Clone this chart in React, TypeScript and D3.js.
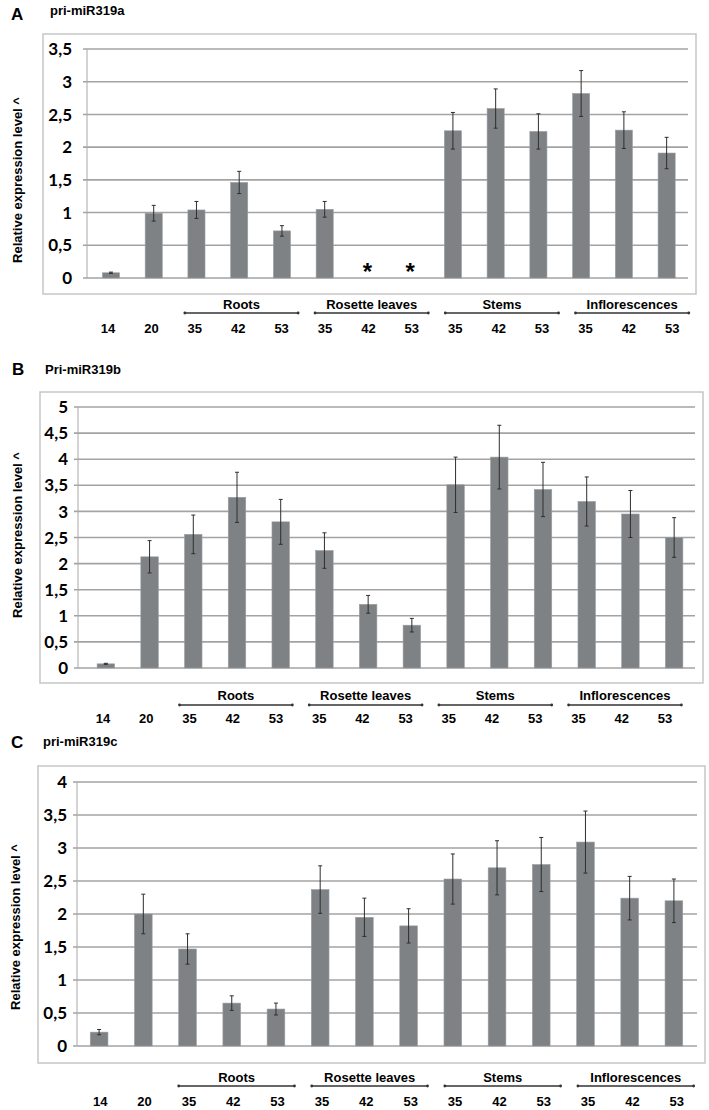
import * as d3 from 'd3'

// x categories (days) and tissue groups
const categories = ['14', '20', '35', '42', '53', '35', '42', '53', '35', '42', '53', '35', '42', '53']
const groupNames = ['Roots', 'Rosette leaves', 'Stems', 'Inflorescences']
const groupFirst = [2, 5, 8, 11]
const groupLast = [4, 7, 10, 13]

// A: pri-miR319a
const valuesA = [0.08, 0.99, 1.04, 1.46, 0.72, 1.05, 0, 0, 2.25, 2.59, 2.24, 2.82, 2.26, 1.91]
const errorsA = [0.01, 0.12, 0.13, 0.17, 0.08, 0.12, 0, 0, 0.28, 0.3, 0.27, 0.35, 0.28, 0.24]
const starsA = [6, 7]
const ticksA = [0, 0.5, 1, 1.5, 2, 2.5, 3, 3.5]

// B: Pri-miR319b
const valuesB = [0.08, 2.13, 2.56, 3.27, 2.8, 2.25, 1.22, 0.82, 3.51, 4.04, 3.42, 3.19, 2.95, 2.5]
const errorsB = [0.01, 0.31, 0.37, 0.48, 0.43, 0.34, 0.17, 0.13, 0.53, 0.61, 0.52, 0.47, 0.45, 0.38]
const ticksB = [0, 0.5, 1, 1.5, 2, 2.5, 3, 3.5, 4, 4.5, 5]

// C: pri-miR319c
const valuesC = [0.21, 2.0, 1.47, 0.65, 0.56, 2.37, 1.95, 1.82, 2.53, 2.7, 2.75, 3.09, 2.24, 2.2]
const errorsC = [0.04, 0.3, 0.23, 0.11, 0.09, 0.36, 0.29, 0.26, 0.38, 0.41, 0.41, 0.47, 0.33, 0.33]
const ticksC = [0, 0.5, 1, 1.5, 2, 2.5, 3, 3.5, 4]

const yTitle = 'Relative expression level ^'
const barColor = '#7e8285'
const gridColor = '#a3a3a3'
const arial = '"Liberation Sans", Arial, sans-serif'
const calibri = 'Lato, "Liberation Sans", sans-serif'

const fmt = (v: number) => String(v).replace('.', ',')

interface Layout {
  frame: [number, number, number, number]
  axisX: number
  gridRight: number
  barRange: [number, number]
  labelRange: [number, number]
  y0: number
  yTop: number
  tickRight: number
  groupBase: number
  groupLine: number
  tickBase: number
  letterX: number
  letterBase: number
  titleX: number
  titleBase: number
  yTitleX: number
  yTitleY: number
}

interface PanelProps {
  letter: string
  title: string
  values: number[]
  errors: number[]
  ticks: number[]
  stars?: number[]
  L: Layout
}

function Panel({ letter, title, values, errors, ticks, stars = [], L }: PanelProps) {
  const x = d3.scaleBand<number>().domain(d3.range(categories.length)).range(L.barRange).paddingInner(0.6).paddingOuter(0.3)
  const lx = d3.scaleBand<number>().domain(d3.range(categories.length)).range(L.labelRange)
  const y = d3.scaleLinear().domain([0, d3.max(ticks)!]).range([L.y0, L.yTop])
  const [fx1, fy1, fx2, fy2] = L.frame
  const step = lx.step()

  return (
    <g>
      <text x={L.letterX} y={L.letterBase} fontFamily={arial} fontWeight="bold" fontSize={17}>{letter}</text>
      <text x={L.titleX} y={L.titleBase} fontFamily={arial} fontWeight="bold" fontSize={13}>{title}</text>
      <rect x={fx1} y={fy1} width={fx2 - fx1} height={fy2 - fy1} fill="#fff" stroke="#c6c6c6" strokeWidth={1.5} />

      {ticks.map(t => (
        <g key={t}>
          <line x1={L.axisX - 4} x2={L.gridRight} y1={y(t)} y2={y(t)} stroke={gridColor} strokeWidth={1.6} />
          <text x={L.tickRight} y={y(t)} dy="0.36em" textAnchor="end" fontFamily={calibri} fontWeight="bold" fontSize={17}>{fmt(t)}</text>
        </g>
      ))}
      <line x1={L.axisX} x2={L.axisX} y1={L.yTop} y2={L.y0} stroke="#a8a8a8" strokeWidth={1} />

      {values.map((v, i) => {
        const cx = x(i)! + x.bandwidth() / 2
        return (
          <g key={i}>
            {v > 0 && (
              <rect x={x(i)} y={y(v)} width={x.bandwidth()} height={y(0) - y(v)} fill={barColor} stroke="#9a9ea1" strokeWidth={0.6} />
            )}
            {errors[i] > 0 && (
              <g stroke="#2e2e2e" strokeWidth={1}>
                <line x1={cx} x2={cx} y1={y(v + errors[i])} y2={y(v - errors[i])} />
                <line x1={cx - 2} x2={cx + 2} y1={y(v + errors[i])} y2={y(v + errors[i])} />
                <line x1={cx - 2} x2={cx + 2} y1={y(v - errors[i])} y2={y(v - errors[i])} />
              </g>
            )}
          </g>
        )
      })}

      {stars.map(i => (
        <text key={i} x={x(i)! + x.bandwidth() / 2} y={y(0) + 2} textAnchor="middle" fontFamily={arial} fontWeight="bold" fontSize={24}>*</text>
      ))}

      <text transform={`translate(${L.yTitleX},${L.yTitleY}) rotate(-90)`} dy="0.36em" textAnchor="middle" fontFamily={arial} fontWeight="bold" fontSize={13}>{yTitle}</text>

      {groupNames.map((g, k) => {
        const gx1 = lx(groupFirst[k])! + step * 0.27
        const gx2 = lx(groupLast[k])! + step * 0.88
        return (
          <g key={g}>
            <line x1={gx1} x2={gx2} y1={L.groupLine} y2={L.groupLine} stroke="#333" strokeWidth={1.3} />
            <circle cx={gx1} cy={L.groupLine} r={1.4} fill="#333" />
            <circle cx={gx2} cy={L.groupLine} r={1.4} fill="#333" />
            <text x={(gx1 + gx2) / 2} y={L.groupBase} textAnchor="middle" fontFamily={arial} fontWeight="bold" fontSize={13}>{g}</text>
          </g>
        )
      })}

      {categories.map((c, i) => (
        <text key={i} x={lx(i)! + step / 2} y={L.tickBase} textAnchor="middle" fontFamily={arial} fontWeight="bold" fontSize={13}>{c}</text>
      ))}
    </g>
  )
}

const layoutA: Layout = {
  frame: [43, 34, 696, 294], axisX: 87, gridRight: 688, barRange: [89.6, 688], labelRange: [86.3, 694],
  y0: 278, yTop: 49, tickRight: 72, groupBase: 309, groupLine: 313, tickBase: 333,
  letterX: 11, letterBase: 20, titleX: 50, titleBase: 15, yTitleX: 17, yTitleY: 180,
}
const layoutB: Layout = {
  frame: [40, 392, 703, 683], axisX: 78, gridRight: 695, barRange: [84, 696], labelRange: [81.4, 686.6],
  y0: 668, yTop: 407, tickRight: 68, groupBase: 700, groupLine: 705, tickBase: 723,
  letterX: 12, letterBase: 375, titleX: 45, titleBase: 374, yTitleX: 17, yTitleY: 535,
}
const layoutC: Layout = {
  frame: [38, 766, 705, 1063], axisX: 77, gridRight: 697, barRange: [77, 696], labelRange: [78, 699],
  y0: 1046, yTop: 782, tickRight: 67, groupBase: 1082, groupLine: 1086, tickBase: 1106,
  letterX: 11, letterBase: 748, titleX: 43, titleBase: 746, yTitleX: 15, yTitleY: 927,
}

export default function App() {
  return (
    <svg width={709} height={1110} style={{ position: 'absolute', left: 0, top: 0, background: '#fff' }}>
      <Panel letter="A" title="pri-miR319a" values={valuesA} errors={errorsA} ticks={ticksA} stars={starsA} L={layoutA} />
      <Panel letter="B" title="Pri-miR319b" values={valuesB} errors={errorsB} ticks={ticksB} L={layoutB} />
      <Panel letter="C" title="pri-miR319c" values={valuesC} errors={errorsC} ticks={ticksC} L={layoutC} />
    </svg>
  )
}
